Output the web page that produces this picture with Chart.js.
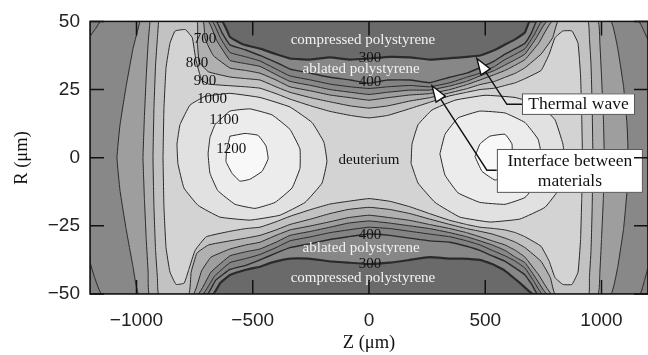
<!DOCTYPE html>
<html>
<head>
<meta charset="utf-8">
<script src="https://cdn.jsdelivr.net/npm/chart.js@4.4.1/dist/chart.umd.min.js"></script>
<style>
  html, body { margin: 0; padding: 0; background: #fff; }
</style>
</head>
<body>
<canvas id="chart" width="648" height="355"></canvas>
<script>
/* ============================
   Temperature map Z-R, contour regions drawn as filled polygons
   ============================ */

// axis ticks
const zTicks = [-1000, -500, 0, 500, 1000];
const rTicks = [-50, -25, 0, 25, 50];

// contour outlines [Z (um), R (um)], one closed outline per level
const iso300 = [[-1200,50],[-632,50],[-615,47.5],[-598,44.3],[-540,41.5],[-469,40],[-400,38],[-340,36.4],[-260,36],[-168,36.8],[-80,36],[0,36.4],[90,37],[176,36.8],[260,36],[348,36.5],[420,37],[477,37.5],[540,39.5],[585,41.5],[630,43.5],[671,46],[692,50],[1200,50],[1200,-50],[705,-50],[650,-46],[585,-41.5],[530,-39],[477,-37.5],[400,-37],[348,-37],[260,-36.5],[176,-37.5],[90,-38.5],[0,-39],[-90,-38.5],[-168,-38],[-260,-37],[-340,-37],[-420,-38.5],[-469,-40],[-525,-41],[-598,-43],[-640,-46],[-671,-50],[-1200,-50],[-1200,50]];
const iso400 = [[-1200,50],[-658,50],[-630,45.5],[-598,41.4],[-530,39.5],[-469,37.5],[-400,35],[-340,32.5],[-250,31],[-168,29.5],[-80,28.5],[0,27.3],[80,28.5],[176,28.5],[260,27.5],[348,29.5],[420,31],[477,33],[540,35.5],[585,38],[630,40],[671,42],[700,46],[722,50],[1200,50],[1200,-50],[725,-50],[700,-46.5],[671,-43],[630,-40.5],[585,-38],[530,-36],[477,-34],[420,-32.5],[348,-31],[260,-30.5],[176,-29.5],[90,-28.5],[0,-28],[-90,-29],[-168,-30],[-250,-31.5],[-340,-33],[-400,-35],[-469,-37.5],[-530,-39.5],[-598,-41],[-660,-45],[-695,-50],[-1200,-50],[-1200,50]];
const iso500 = [[-1157,50],[-675,50],[-640,44],[-598,38.6],[-530,37],[-469,35.5],[-400,32.5],[-340,30],[-250,28.5],[-168,27],[-80,26],[0,25.4],[80,26],[176,26.5],[260,26],[348,27.5],[420,29.5],[477,31],[540,33.5],[585,36],[630,38],[671,40],[710,45],[744,50],[1160,50],[1185,46],[1200,43],[1200,-40],[1185,-45],[1165,-50],[745,-50],[710,-45.5],[671,-40.5],[630,-38],[585,-36],[530,-34],[477,-32],[420,-30.5],[348,-29],[260,-28],[176,-27],[90,-26],[0,-25.5],[-90,-26.5],[-168,-27.5],[-250,-29],[-340,-30.5],[-400,-33],[-469,-35.5],[-530,-37],[-598,-38.5],[-665,-43.5],[-715,-50],[-1150,-50],[-1180,-44],[-1200,-38],[-1200,44.3],[-1175,47.5],[-1157,50]];
const iso600 = [[-985,50],[-692,50],[-655,43],[-598,35.7],[-530,34.5],[-469,33.5],[-400,30.5],[-340,28],[-250,26.5],[-168,25],[-80,24],[0,23.2],[80,24],[176,24.8],[260,24.8],[348,26.3],[420,28],[477,30],[540,32],[585,34],[630,36],[671,38],[720,44],[765,50],[1040,50],[1070,40],[1095,26],[1110,12],[1115,0],[1110,-12],[1095,-26],[1070,-40],[1040,-50],[765,-50],[720,-44.5],[671,-38.5],[630,-36.5],[585,-34],[530,-32],[477,-30.5],[420,-29],[348,-27.5],[260,-26],[176,-25],[90,-24],[0,-23.2],[-90,-24],[-168,-25.5],[-250,-27],[-340,-28.5],[-400,-31],[-469,-33.5],[-530,-34.5],[-598,-36],[-680,-42],[-735,-50],[-990,-50],[-1015,-40],[-1045,-26],[-1071,-12],[-1084,0],[-1071,12],[-1045,26],[-1015,40],[-985,50]];
const iso700 = [[-942,50],[-714,50],[-705,43.6],[-670,37.5],[-598,32.9],[-530,32],[-469,31],[-400,28.5],[-340,26],[-250,24.5],[-168,23],[-80,22],[0,21.1],[80,22],[176,23],[260,23.5],[348,25],[420,26.8],[477,28.5],[540,30.5],[585,32],[630,34],[671,36],[730,42],[787,50],[985,50],[993,42],[1000,30],[1008,15],[1012,0],[1008,-15],[1000,-30],[993,-42],[985,-50],[785,-50],[730,-43],[671,-36.5],[630,-34],[585,-32],[530,-30.5],[477,-29],[420,-27.5],[348,-26],[260,-24.5],[176,-23],[90,-22],[0,-21.1],[-90,-22],[-168,-23.5],[-250,-25],[-340,-26.5],[-400,-28.5],[-469,-31],[-530,-32],[-598,-33.5],[-680,-36.5],[-720,-41.5],[-755,-50],[-945,-50],[-950,-42],[-958,-30],[-966,-15],[-972,0],[-966,15],[-958,30],[-950,42],[-942,50]];
const iso800 = [[-905,50],[-740,50],[-738,42],[-730,35],[-690,31.5],[-598,29.6],[-530,29],[-469,28.5],[-400,26],[-340,24],[-250,22],[-168,20.5],[-80,19],[0,18.2],[80,19],[176,20.8],[260,22],[348,23.8],[420,25.3],[477,26.8],[540,28],[585,29.5],[630,31],[671,33],[740,38],[790,44],[813,50],[942,50],[948,44],[955,34],[960,18],[963,0],[960,-18],[955,-34],[948,-44],[945,-50],[800,-50],[780,-44],[740,-38],[671,-33],[630,-31],[585,-29.5],[530,-28],[477,-27],[420,-26],[348,-24.5],[260,-22.5],[176,-20.5],[90,-19],[0,-18.2],[-90,-19],[-168,-20.5],[-250,-22.5],[-340,-24.5],[-400,-26.5],[-469,-28.5],[-530,-29.5],[-598,-30.5],[-690,-32],[-740,-35],[-765,-42],[-775,-50],[-905,-50],[-910,-44],[-918,-34],[-925,-18],[-929,0],[-925,18],[-918,34],[-910,44],[-905,50]];
const iso900 = [[-886,0],[-882,18],[-873,33],[-856,42],[-834,46.5],[-790,47],[-760,44],[-745,36],[-720,28.5],[-690,27],[-598,26.4],[-530,26],[-469,25.5],[-400,23.5],[-340,21.5],[-250,19],[-168,17],[-80,15.5],[0,14.6],[80,15.5],[176,18],[260,20.3],[348,22.7],[420,24],[477,25],[540,25.5],[585,26.5],[630,27.5],[671,29],[740,32],[775,38],[800,44],[834,46.5],[873,46.5],[899,42],[910,30],[915,15],[918,0],[915,-15],[910,-30],[899,-42],[873,-46.5],[834,-46.5],[800,-44],[775,-38],[740,-32.5],[671,-29],[630,-27.5],[585,-26.5],[540,-26],[477,-25.5],[420,-24.5],[348,-23],[260,-20.5],[176,-18],[90,-16],[0,-15],[-90,-16],[-168,-17],[-250,-19],[-340,-21.5],[-400,-23.5],[-469,-25.5],[-530,-26],[-598,-27],[-700,-29],[-748,-34],[-775,-41],[-795,-46],[-830,-46.5],[-856,-42],[-873,-33],[-882,-18],[-886,0]];
const iso1000a = [[-826,5],[-813,12.1],[-770,19.3],[-705,22.5],[-598,23.6],[-469,22.1],[-340,18.6],[-245,12.9],[-194,5.7],[-181,-1.4],[-202,-9.3],[-275,-16.4],[-383,-21.1],[-512,-22.9],[-641,-21.8],[-735,-17.5],[-796,-11.1],[-822,-2.1],[-826,5]];
const iso1000b = [[181,-2.1],[185,5],[211,12.1],[271,17.5],[370,21.1],[499,22.9],[628,22.1],[735,19.3],[800,13.9],[834,5],[843,-2.1],[821,-11.1],[757,-18.2],[649,-22.5],[520,-23.6],[391,-21.8],[284,-16.4],[211,-9.3],[181,-2.1]];
const iso1100a = [[-684,7.5],[-662,12.1],[-598,17.1],[-512,17.9],[-417,15.7],[-340,10.4],[-297,3.2],[-297,-3.9],[-331,-11.1],[-404,-16.4],[-490,-18.6],[-576,-17.1],[-650,-12.1],[-684,-5.7],[-692,1.4],[-684,7.5]];
const iso1100b = [[305,1.4],[327,8.6],[383,14.6],[477,17.1],[585,16.4],[671,12.9],[727,6.8],[744,-0.4],[727,-8.6],[671,-14.6],[585,-17.1],[477,-16.4],[383,-12.9],[327,-6.4],[305,1.4]];
const iso1200a = [[-598,7.9],[-533,8.9],[-477,8.2],[-443,4.3],[-434,-0.4],[-460,-5],[-512,-7.9],[-555,-8.6],[-589,-5.7],[-615,-1.4],[-611,3.2],[-598,7.9]];
const iso1200b = [[456,0.4],[477,5],[520,7.9],[585,8.6],[615,5],[615,-2.1],[598,-6.4],[542,-8.2],[486,-5],[456,0.4]];

const isolines = [
  [300, iso300], [400, iso400], [500, iso500], [600, iso600], [700, iso700], [800, iso800], [900, iso900],
  [1000, iso1000a], [1000, iso1000b], [1100, iso1100a], [1100, iso1100b], [1200, iso1200a], [1200, iso1200b]
];

// grey for each band, index 0 = below 300, then one per level
const bandShades = ['#6a6a6a', '#878787', '#838383', '#888888', '#9e9e9e', '#b0b0b0', '#c2c2c2', '#d3d3d3', '#e1e1e1', '#ececec', '#f8f8f8'];

const serif = "'Liberation Serif', 'Times New Roman', serif";
const sans = "'Liberation Sans', Arial, sans-serif";

const fmt = v => (v < 0 ? '\u2212' + Math.abs(v) : String(v));

// text on the map, [text, Z, R, colour]
const mapLabels = [
  ['compressed polystyrene', -26, 43.2, '#f2f2f2'],
  ['ablated polystyrene', -34, 32.5, '#f2f2f2'],
  ['300', 4, 36.6, '#111'],
  ['400', 4, 27.6, '#111'],
  ['deuterium', 0, -1, '#111'],
  ['400', 4, -28.2, '#111'],
  ['ablated polystyrene', -34, -33.2, '#f2f2f2'],
  ['300', 4, -38.9, '#111'],
  ['compressed polystyrene', -26, -44.3, '#f2f2f2'],
  ['700', -705, 43.6, '#111'],
  ['800', -740, 34.6, '#111'],
  ['900', -705, 28.2, '#111'],
  ['1000', -675, 21.4, '#111'],
  ['1100', -624, 13.9, '#111'],
  ['1200', -593, 3.2, '#111'],
];

const callouts = [
  { lines: ['Thermal wave'], box: [658, 1144, 23.6, 15.7], path: [[658, 19.6], [593, 19.6], [464, 36.4]] },
  { lines: ['Interface between', 'materials'], box: [550, 1178, 3.2, -12.9], path: [[550, -4.6], [507, -4.6], [271, 26.4]] },
];

function arrowHead(ctx, x0, y0, x1, y1) {
  const len = Math.hypot(x1 - x0, y1 - y0);
  const ux = (x1 - x0) / len, uy = (y1 - y0) / len;
  const bx = x1 - ux * 16, by = y1 - uy * 16;
  ctx.beginPath();
  ctx.moveTo(x1, y1);
  ctx.lineTo(bx - uy * 5.5, by + ux * 5.5);
  ctx.lineTo(bx + uy * 5.5, by - ux * 5.5);
  ctx.closePath();
  ctx.fillStyle = '#fff';
  ctx.fill();
  ctx.stroke();
  return [bx, by];
}

const mapDecor = {
  id: 'mapDecor',
  beforeDatasetsDraw(chart) {
    const { ctx, chartArea: a } = chart;
    ctx.save();
    ctx.fillStyle = bandShades[0];
    ctx.fillRect(a.left, a.top, a.right - a.left, a.bottom - a.top);
    ctx.restore();
  },
  afterDatasetsDraw(chart) {
    const { ctx, chartArea: a, scales: { x, y } } = chart;
    const px = v => x.getPixelForValue(v);
    const py = v => y.getPixelForValue(v);

    ctx.save();
    ctx.beginPath();
    ctx.rect(a.left, a.top, a.right - a.left, a.bottom - a.top);
    ctx.clip();

    ctx.textAlign = 'center';
    ctx.textBaseline = 'middle';
    ctx.font = '15px ' + serif;
    mapLabels.forEach(([t, z, r, c]) => {
      ctx.fillStyle = c;
      ctx.fillText(t, px(z), py(r));
    });

    // callouts
    callouts.forEach(c => {
      const pts = c.path.map(([z, r]) => [px(z), py(r)]);
      ctx.strokeStyle = '#111';
      ctx.lineWidth = 1.4;
      const n = pts.length;
      const [bx, by] = arrowHead(ctx, pts[n - 2][0], pts[n - 2][1], pts[n - 1][0], pts[n - 1][1]);
      ctx.beginPath();
      ctx.moveTo(pts[0][0], pts[0][1]);
      for (let i = 1; i < n - 1; i++) ctx.lineTo(pts[i][0], pts[i][1]);
      ctx.lineTo(bx, by);
      ctx.stroke();

      const [z0, z1, r0, r1] = c.box;
      const bx0 = px(z0), bx1 = px(z1), by0 = py(r0), by1 = py(r1);
      ctx.fillStyle = '#fff';
      ctx.fillRect(bx0, by0, bx1 - bx0, by1 - by0);
      ctx.strokeStyle = '#555';
      ctx.lineWidth = 1;
      ctx.strokeRect(bx0 + 0.5, by0 + 0.5, bx1 - bx0 - 1, by1 - by0 - 1);
      ctx.fillStyle = '#111';
      ctx.font = '17.5px ' + serif;
      const cx = (bx0 + bx1) / 2, cy = (by0 + by1) / 2;
      const lh = 20;
      c.lines.forEach((t, i) => ctx.fillText(t, cx, cy + (i - (c.lines.length - 1) / 2) * lh));
    });
    ctx.restore();

    // frame and inward ticks
    ctx.save();
    ctx.strokeStyle = '#111';
    ctx.lineWidth = 1.5;
    ctx.strokeRect(a.left, a.top, a.right - a.left, a.bottom - a.top);
    ctx.beginPath();
    zTicks.forEach(v => {
      const xx = px(v);
      ctx.moveTo(xx, a.bottom); ctx.lineTo(xx, a.bottom - 14);
      ctx.moveTo(xx, a.top); ctx.lineTo(xx, a.top + 14);
    });
    rTicks.forEach(v => {
      const yy = py(v);
      ctx.moveTo(a.left, yy); ctx.lineTo(a.left + 14, yy);
      ctx.moveTo(a.right, yy); ctx.lineTo(a.right - 14, yy);
    });
    ctx.stroke();
    ctx.restore();
  },
  afterDraw(chart) {
    const { ctx, scales: { x } } = chart;
    ctx.save();
    ctx.fillStyle = '#111';
    ctx.font = '18.5px ' + serif;
    ctx.textAlign = 'center';
    ctx.textBaseline = 'middle';
    ctx.fillText('Z (\u03bcm)', x.getPixelForValue(0), 343);
    ctx.translate(22, 158);
    ctx.rotate(-Math.PI / 2);
    ctx.fillText('R (\u03bcm)', 0, 0);
    ctx.restore();
  }
};

const datasets = isolines.map(([level, pts]) => ({
  data: pts.map(([z, r]) => ({ x: z, y: r })),
  showLine: true,
  fill: 'shape',
  backgroundColor: bandShades[level / 100 - 2],
  borderColor: '#2a2a2a',
  borderWidth: level === 300 ? 2.2 : (level === 400 ? 1.4 : 1),
  pointRadius: 0,
  pointHoverRadius: 0,
  tension: 0.1,
  order: -level,
}));

new Chart(document.getElementById('chart'), {
  type: 'scatter',
  data: { datasets },
  options: {
    responsive: false,
    animation: false,
    events: [],
    layout: { padding: { top: 14, right: 0, left: 0, bottom: 0 } },
    plugins: { legend: { display: false }, tooltip: { enabled: false } },
    scales: {
      x: {
        type: 'linear', min: -1200, max: 1200,
        afterBuildTicks: s => { s.ticks = zTicks.map(v => ({ value: v })); },
        afterFit: s => { s.height = 61; },
        grid: { display: false, drawTicks: false },
        border: { display: false },
        ticks: { font: { family: sans, size: 19 }, color: '#222', padding: 15, maxRotation: 0, callback: v => fmt(v) },
      },
      y: {
        type: 'linear', min: -50, max: 50,
        afterBuildTicks: s => { s.ticks = rTicks.map(v => ({ value: v })); },
        afterFit: s => { s.width = 90; },
        grid: { display: false, drawTicks: false },
        border: { display: false },
        ticks: { font: { family: sans, size: 19 }, color: '#222', padding: 10, callback: v => fmt(v) },
      }
    }
  },
  plugins: [mapDecor]
});
</script>
</body>
</html>
